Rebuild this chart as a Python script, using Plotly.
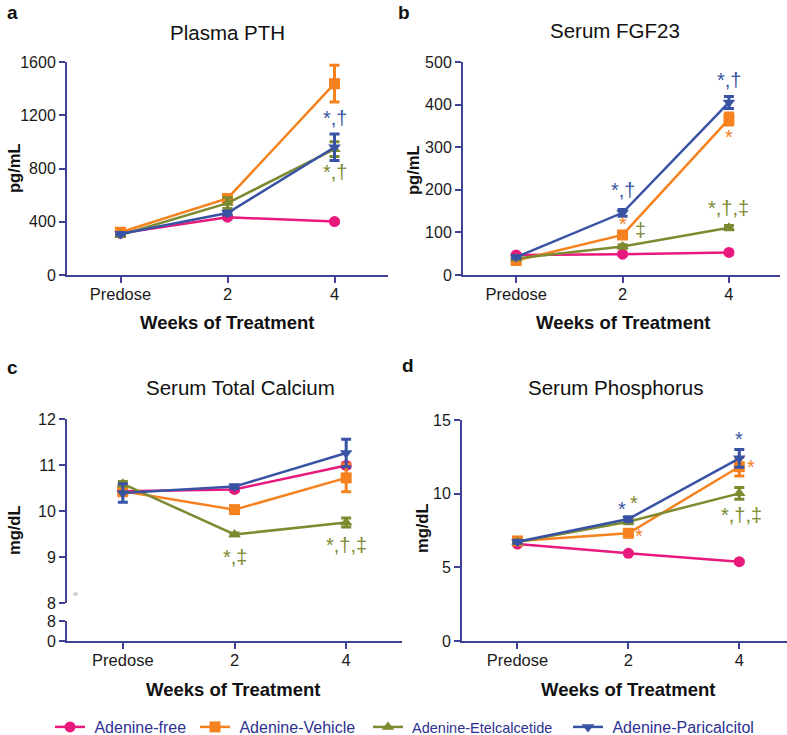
import plotly.graph_objects as go

# ---------------- data ----------------
weeks = ['Predose', '2', '4']
series_names = ['Adenine-free', 'Adenine-Vehicle', 'Adenine-Etelcalcetide', 'Adenine-Paricalcitol']

pth_free = [313, 434, 401]
pth_free_err = [8, 12, 10]
pth_vehicle = [321, 575, 1437]
pth_vehicle_err = [20, 30, 138]
pth_etel = [301, 540, 945]
pth_etel_err = [10, 40, 55]
pth_pari = [308, 465, 960]
pth_pari_err = [10, 15, 100]

fgf_free = [47, 49, 53]
fgf_free_err = [3, 3, 3]
fgf_vehicle = [34, 94, 366]
fgf_vehicle_err = [3, 5, 14]
fgf_etel = [39, 67, 111]
fgf_etel_err = [3, 4, 5]
fgf_pari = [42, 146, 405]
fgf_pari_err = [3, 8, 14]

ca_free = [10.43, 10.47, 10.99]
ca_free_err = [0.05, 0.04, 0.05]
ca_vehicle = [10.43, 10.03, 10.72]
ca_vehicle_err = [0.1, 0.03, 0.3]
ca_etel = [10.59, 9.49, 9.75]
ca_etel_err = [0.05, 0.03, 0.1]
ca_pari = [10.39, 10.53, 11.26]
ca_pari_err = [0.2, 0.04, 0.3]

phos_free = [6.58, 5.95, 5.38]
phos_free_err = [0.08, 0.08, 0.08]
phos_vehicle = [6.79, 7.31, 11.83]
phos_vehicle_err = [0.1, 0.15, 0.63]
phos_etel = [6.72, 8.10, 10.02]
phos_etel_err = [0.1, 0.15, 0.4]
phos_pari = [6.74, 8.28, 12.40]
phos_pari_err = [0.1, 0.15, 0.6]

# ---------------- styles ----------------
FONT = 'Liberation Sans, Arial, sans-serif'
AXC = '#3f4398'
colors = ['#e8197d', '#f5821f', '#7d8a30', '#3953a4']
symbols = ['circle', 'square', 'triangle-up', 'triangle-down']
W, H = 787, 735

def px_x(p):
    return p / W

def px_y(p):
    return 1 - p / H

fig = go.Figure()

panels = [
    ('x', 'y', [pth_free, pth_vehicle, pth_etel, pth_pari],
     [pth_free_err, pth_vehicle_err, pth_etel_err, pth_pari_err]),
    ('x2', 'y2', [fgf_free, fgf_vehicle, fgf_etel, fgf_pari],
     [fgf_free_err, fgf_vehicle_err, fgf_etel_err, fgf_pari_err]),
    ('x3', 'y3', [ca_free, ca_vehicle, ca_etel, ca_pari],
     [ca_free_err, ca_vehicle_err, ca_etel_err, ca_pari_err]),
    ('x4', 'y4', [phos_free, phos_vehicle, phos_etel, phos_pari],
     [phos_free_err, phos_vehicle_err, phos_etel_err, phos_pari_err]),
]

legend_ids = ['legend', 'legend2', 'legend3', 'legend4']
for pi, (xa, ya, vals, errs) in enumerate(panels):
    for si in range(4):
        fig.add_trace(go.Scatter(
            x=weeks, y=vals[si], xaxis=xa, yaxis=ya,
            mode='lines+markers', name='\u00a0' + series_names[si],
            line=dict(color=colors[si], width=2.5),
            marker=dict(symbol=symbols[si], size=11, color=colors[si]),
            error_y=dict(type='data', array=errs[si], color=colors[si], thickness=3, width=5),
            showlegend=(pi == 0), legend=legend_ids[si], cliponaxis=False,
        ))

# empty trace so that the lower (broken) segment of panel c's y axis exists
fig.add_trace(go.Scatter(x=weeks, y=[None] * len(weeks), xaxis='x3', yaxis='y5',
                         mode='lines', showlegend=False, hoverinfo='skip'))

tickfont = dict(family=FONT, size=16, color='#1a1a1a')

def xaxis(dom, anchor, rng=(-0.5, 2.5)):
    return dict(domain=dom, anchor=anchor, type='category', categoryarray=weeks,
                range=list(rng), showline=True, linecolor=AXC, linewidth=2,
                ticks='outside', ticklen=6, tickwidth=2, tickcolor=AXC, ticklabelstandoff=-3,
                showgrid=False, zeroline=False, tickfont=dict(family=FONT, size=16.5, color='#1a1a1a'))

def yaxis(dom, anchor, rng, tickvals, ticktext=None):
    d = dict(domain=dom, anchor=anchor, range=list(rng), showline=True, linecolor=AXC, linewidth=2,
             ticks='outside', ticklen=6, tickwidth=2, tickcolor=AXC, tickvals=tickvals,
             showgrid=False, zeroline=False, tickfont=tickfont)
    if ticktext is not None:
        d['ticktext'] = ticktext
    return d

ya_dom = [px_y(275), px_y(62)]
fig.update_layout(
    width=W, height=H, margin=dict(l=0, r=0, t=0, b=0, autoexpand=False),
    plot_bgcolor='white', paper_bgcolor='white',
    font=dict(family=FONT),
    xaxis=xaxis([px_x(67), px_x(388)], 'y'),
    yaxis=yaxis(ya_dom, 'x', (0, 1600), [0, 400, 800, 1200, 1600]),
    xaxis2=xaxis([px_x(463), px_x(780)], 'y2', (-0.5, 2.48)),
    yaxis2=yaxis(ya_dom, 'x2', (0, 500), [0, 100, 200, 300, 400, 500]),
    xaxis3=xaxis([px_x(67), px_x(402)], 'y5'),
    yaxis3=yaxis([px_y(603), px_y(419)], 'x3', (8, 12), [8, 9, 10, 11, 12]),
    yaxis5=yaxis([px_y(641), px_y(621)], 'x3', (0, 8), [0, 8]),
    xaxis4=xaxis([px_x(462), 1.0], 'y4', (-0.5, 2.43)),
    yaxis4=yaxis([px_y(641), px_y(420)], 'x4', (0, 15), [0, 5, 10, 15]),
)

# legends (one per series)
legend_marker_x = [70, 215, 388, 588]
legend_font_sizes = [16, 16, 14.5, 16]
for i, lid in enumerate(legend_ids):
    fig.update_layout({lid: dict(
        x=px_x(legend_marker_x[i] - 20), y=px_y(727), xanchor='left', yanchor='middle',
        orientation='h', bgcolor='rgba(0,0,0,0)', borderwidth=0,
        font=dict(family=FONT, size=legend_font_sizes[i], color='#2e3192'),
    )})

ann = []
def paper_text(text, x, y, size, bold=False, angle=0, color='#111111'):
    t = f'<b>{text}</b>' if bold else text
    ann.append(dict(text=t, x=px_x(x), y=px_y(y), xref='paper', yref='paper',
                    showarrow=False, textangle=angle, xanchor='center', yanchor='middle',
                    font=dict(family=FONT, size=size, color=color)))

# panel letters
paper_text('a', 12, 13, 19, bold=True)
paper_text('b', 404, 13, 19, bold=True)
paper_text('c', 12, 367, 19, bold=True)
paper_text('d', 408, 365, 19, bold=True)
# titles
paper_text('Plasma PTH', 227, 32, 20.5)
paper_text('Serum FGF23', 615, 30, 20.5)
paper_text('Serum Total Calcium', 240, 387, 20.5)
paper_text('Serum Phosphorus', 615, 387, 20.5)
# x titles
paper_text('Weeks of Treatment', 227, 322, 18.5, bold=True)
paper_text('Weeks of Treatment', 623, 322, 18.5, bold=True)
paper_text('Weeks of Treatment', 233, 689, 18.5, bold=True)
paper_text('Weeks of Treatment', 628, 689, 18.5, bold=True)
# y titles
paper_text('pg/mL', 14, 168, 16.5, bold=True, angle=-90)
paper_text('pg/mL', 413, 170, 16.5, bold=True, angle=-90)
paper_text('mg/dL', 14, 530, 16.5, bold=True, angle=-90)
paper_text('mg/dL', 422, 528, 16.5, bold=True, angle=-90)
# tiny axis-break glyph
paper_text('∞', 75, 593, 7, color='#888888')

# significance marks (category, value, pixel x-shift, text, colour index)
sig = [
    ('x', 'y', '4', 1652, 0, '*', 1),
    ('x', 'y', '4', 1179, 0, '*,†', 3),
    ('x', 'y', '4', 774, 0, '*,†', 2),
    ('x2', 'y2', '2', 200, 0, '*,†', 3),
    ('x2', 'y2', '2', 120, 0, '*', 1),
    ('x2', 'y2', '2', 106, 18, '‡', 2),
    ('x2', 'y2', '4', 458, 0, '*,†', 3),
    ('x2', 'y2', '4', 324, 0, '*', 1),
    ('x2', 'y2', '4', 157, 0, '*,†,‡', 2),
    ('x3', 'y3', '2', 9.0, 0, '*,‡', 2),
    ('x3', 'y3', '4', 9.26, 0, '*,†,‡', 2),
    ('x4', 'y4', '2', 8.96, -6, '*', 3),
    ('x4', 'y4', '2', 9.37, 6, '*', 2),
    ('x4', 'y4', '2', 7.13, 11, '*', 1),
    ('x4', 'y4', '4', 13.7, 0, '*', 3),
    ('x4', 'y4', '4', 11.8, 12, '*', 1),
    ('x4', 'y4', '4', 8.55, 2, '*,†,‡', 2),
]
for xa, ya, xc, yv, xs, txt, ci in sig:
    ann.append(dict(text=txt, x=weeks.index(xc), y=yv, xref=xa, yref=ya, xshift=xs, showarrow=False,
                    xanchor='center', yanchor='middle',
                    font=dict(family=FONT, size=20, color=colors[ci])))

fig.update_layout(annotations=ann)
fig.write_html('out.html', config={'displayModeBar': False},
               post_script="document.body.style.margin='0';document.body.style.overflow='hidden';")
